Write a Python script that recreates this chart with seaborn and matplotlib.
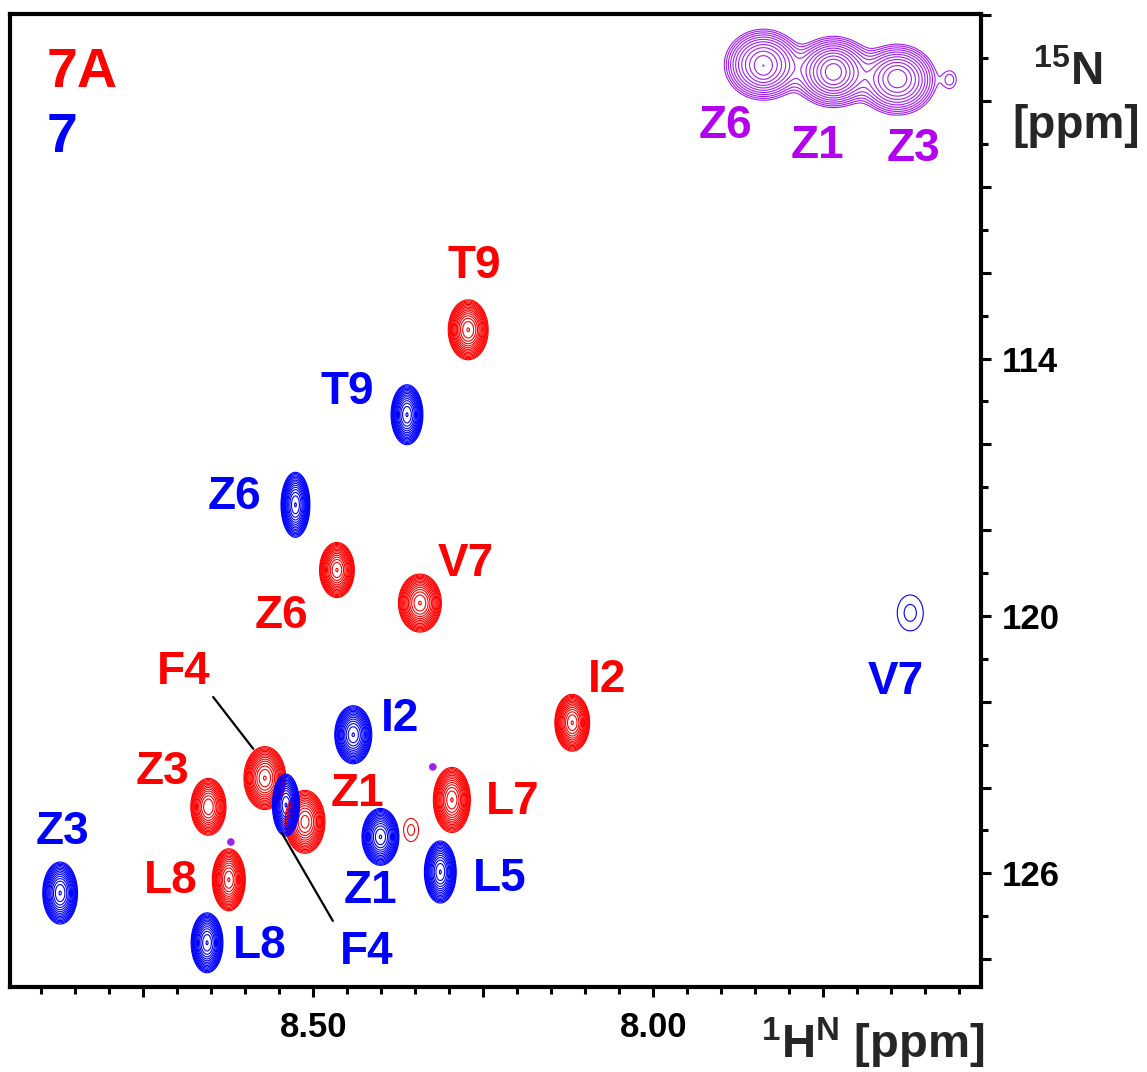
import numpy as np
import matplotlib
matplotlib.use("Agg")
import matplotlib.pyplot as plt
from matplotlib.ticker import MultipleLocator, FixedLocator, FixedFormatter
import seaborn as sns

# ---------------- peak lists (1H ppm, 15N ppm, height in base-contour units, widths in ppm) ----
# compound 7A (red)
red_labels = ["I2", "Z3", "F4", "Z1", "Z6", "V7", "T9", "L7", "L8", ""]
red_h      = [8.119, 8.654, 8.571, 8.512, 8.465, 8.343, 8.272, 8.296, 8.624, 8.356]
red_n      = [122.49, 124.45, 123.78, 124.80, 118.93, 119.70, 113.33, 124.29, 126.15, 124.99]
red_amp    = [40, 30, 40, 35, 40, 40, 40, 40, 40, 1.4]
red_sx     = [0.0094, 0.0099, 0.0113, 0.0110, 0.0094, 0.0116, 0.0108, 0.0100, 0.0089, 0.0134]
red_sy     = [0.244, 0.254, 0.270, 0.275, 0.236, 0.249, 0.257, 0.279, 0.266, 0.33]

# compound 7 (blue)
blue_labels = ["I2", "Z3", "F4", "Z1", "L5", "Z6", "V7", "T9", "L8"]
blue_h      = [8.441, 8.872, 8.540, 8.401, 8.313, 8.526, 7.622, 8.362, 8.656]
blue_n      = [122.77, 126.46, 124.41, 125.15, 125.97, 117.41, 119.93, 115.31, 127.62]
blue_amp    = [40, 40, 40, 40, 40, 40, 1.4, 40, 40]
blue_sx     = [0.0100, 0.0094, 0.0073, 0.0100, 0.0086, 0.0078, 0.0233, 0.0086, 0.0086]
blue_sy     = [0.249, 0.266, 0.266, 0.244, 0.266, 0.279, 0.51, 0.257, 0.257]

# Z residues of the folded region (purple): broad envelope plus sharper cores
purple_labels = ["Z6", "Z1", "Z3", "Z6", "Z1", "Z3", ""]
purple_h      = [7.838, 7.735, 7.641, 7.838, 7.735, 7.641, 7.563]
purple_n      = [107.15, 107.32, 107.50, 107.20, 107.32, 107.44, 107.50]
purple_amp    = [14, 14, 14, 4, 8, 4, 1.4]
purple_sx     = [0.025, 0.026, 0.025, 0.010, 0.013, 0.011, 0.010]
purple_sy     = [0.36, 0.36, 0.36, 0.22, 0.24, 0.18, 0.22]

# isolated single-point artefacts
dot_h = [8.324, 8.621]
dot_n = [123.52, 125.27]

# ---------------- label placement (ppm) ----------------
red_text = {"T9": (8.263, 111.85), "V7": (8.276, 118.79), "Z6": (8.546, 120.01),
            "I2": (8.068, 121.50), "F4": (8.691, 121.31), "Z3": (8.721, 123.64),
            "Z1": (8.435, 124.16), "L7": (8.206, 124.34), "L8": (8.710, 126.18)}
blue_text = {"T9": (8.450, 114.79), "Z6": (8.615, 117.23), "I2": (8.372, 122.41),
             "V7": (7.643, 121.55), "Z3": (8.869, 125.04), "L8": (8.578, 127.70),
             "Z1": (8.416, 126.42), "F4": (8.421, 127.84), "L5": (8.225, 126.14)}
purple_text = {"Z6": (7.894, 108.58), "Z1": (7.759, 109.05), "Z3": (7.618, 109.12)}

RED, BLUE, PURPLE, PURPLE_TXT = "#FF0000", "#0000FF", "#A020F0", "#B400F0"

sns.set_theme(style="ticks")
plt.rcParams["font.family"] = ["Liberation Sans", "DejaVu Sans"]
plt.rcParams["mathtext.fontset"] = "custom"
plt.rcParams["mathtext.rm"] = "Liberation Sans:bold"
plt.rcParams["mathtext.it"] = "Liberation Sans:bold"
plt.rcParams["mathtext.bf"] = "Liberation Sans:bold"

fig = plt.figure(figsize=(11.47, 10.72), dpi=100)
ax = fig.add_axes([0.00915, 0.0793, 0.8461, 0.9076])

# spectral grid
H = np.linspace(7.50, 8.97, 1400)
N = np.linspace(105.5, 129.0, 1400)
HH, NN = np.meshgrid(H, N)


def spectrum(h, n, amp, sx, sy):
    z = np.zeros_like(HH)
    for a, b, c, d, e in zip(h, n, amp, sx, sy):
        z += c * np.exp(-((HH - a) ** 2 / (2 * d ** 2) + (NN - b) ** 2 / (2 * e ** 2)))
    return z


levels = 1.3 ** np.arange(0, 16)
for h, n, amp, sx, sy, col in [
    (purple_h, purple_n, purple_amp, purple_sx, purple_sy, PURPLE),
    (red_h, red_n, red_amp, red_sx, red_sy, RED),
    (blue_h, blue_n, blue_amp, blue_sx, blue_sy, BLUE),
]:
    ax.contour(HH, NN, spectrum(h, n, amp, sx, sy), levels=levels,
               colors=col, linewidths=0.8)

sns.scatterplot(x=dot_h, y=dot_n, ax=ax, color=PURPLE, s=30, edgecolor="none",
                legend=False, zorder=3)

# connector lines for the crowded F4 assignments
ax.plot([8.647, 8.588], [121.89, 123.10], color="black", lw=1.6, zorder=4)
ax.plot([8.546, 8.471], [125.06, 127.11], color="black", lw=1.6, zorder=4)

lab_kw = dict(fontsize=33, fontweight="bold", ha="center", va="center", zorder=5)
for k, (x, y) in red_text.items():
    ax.text(x, y, k, color=RED, **lab_kw)
for k, (x, y) in blue_text.items():
    ax.text(x, y, k, color=BLUE, **lab_kw)
for k, (x, y) in purple_text.items():
    ax.text(x, y, k, color=PURPLE_TXT, **lab_kw)

# sample key
ax.text(0.037, 0.925, "7A", transform=ax.transAxes, color=RED, fontsize=40,
        fontweight="bold", ha="left", va="baseline")
ax.text(0.037, 0.858, "7", transform=ax.transAxes, color=BLUE, fontsize=40,
        fontweight="bold", ha="left", va="baseline")

# axes ranges (NMR convention: both axes decreasing)
ax.set_xlim(8.945, 7.518)
ax.set_ylim(128.65, 105.97)

ax.xaxis.set_major_locator(FixedLocator([8.75, 8.50, 8.25, 8.00, 7.75]))
ax.xaxis.set_major_formatter(FixedFormatter(["", "8.50", "", "8.00", ""]))
ax.xaxis.set_minor_locator(MultipleLocator(0.05))
ymaj = list(range(106, 129, 2))
ax.yaxis.set_major_locator(FixedLocator(ymaj))
ax.yaxis.set_major_formatter(FixedFormatter([str(v) if v in (114, 120, 126) else "" for v in ymaj]))
ax.yaxis.set_minor_locator(MultipleLocator(1))
ax.yaxis.tick_right()

ax.tick_params(axis="both", which="major", direction="out", length=7, width=2.2,
               color="black", labelsize=25, labelcolor="black")
ax.tick_params(axis="both", which="minor", direction="out", length=5, width=2.2, color="black")
ax.tick_params(axis="x", which="both", top=False, bottom=True, pad=10)
ax.tick_params(axis="y", which="both", left=False, right=True, pad=8)
for lab in ax.get_xticklabels() + ax.get_yticklabels():
    lab.set_fontweight("bold")

for sp in ax.spines.values():
    sp.set_visible(True)
    sp.set_linewidth(3)
    sp.set_color("black")

# axis titles
fig.text(985 / 1147, 1 - 1058 / 1072, r"$^{1}$H$^{N}$ [ppm]", fontsize=34,
         fontweight="bold", ha="right", va="baseline")
fig.text(1068 / 1147, 1 - 85 / 1072, r"$^{15}$N", fontsize=33,
         fontweight="bold", ha="center", va="baseline")
fig.text(1076 / 1147, 1 - 138 / 1072, "[ppm]", fontsize=33,
         fontweight="bold", ha="center", va="baseline")

fig.savefig("out.png", dpi=100, facecolor="white")
